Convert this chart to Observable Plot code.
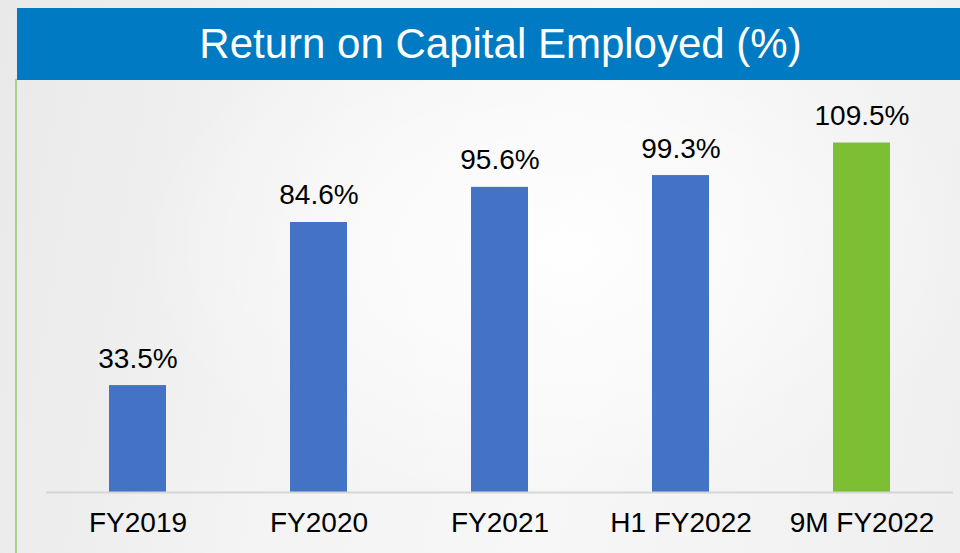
<!DOCTYPE html>
<html>
<head>
<meta charset="utf-8">
<script src="https://cdn.jsdelivr.net/npm/d3@7"></script>
<script src="https://cdn.jsdelivr.net/npm/@observablehq/plot@0.6"></script>
<style>
  html, body { margin: 0; padding: 0; }
  body {
    width: 960px; height: 553px; overflow: hidden; position: relative;
    font-family: "Liberation Sans", Arial, sans-serif;
    background:
      radial-gradient(ellipse 420px 260px at 560px 250px, rgba(255,255,255,0.9), rgba(255,255,255,0) 100%),
      linear-gradient(100deg, #e9e9e9 0%, #f4f4f4 35%, #f7f7f7 60%, #efefef 100%);
  }
  #banner {
    position: absolute; left: 17px; top: 8px; width: 943px; height: 72px;
    background: #007ac2; color: #fff; font-size: 42px;
    display: flex; align-items: center; justify-content: center;
    padding-left: 24px; box-sizing: border-box;
  }
  #edge {
    position: absolute; left: 15px; top: 79px; width: 2px; height: 474px;
    background: #a9d18e;
  }
  #chart { position: absolute; left: 0; top: 80px; }
</style>
</head>
<body>
<div id="banner">Return on Capital Employed (%)</div>
<div id="edge"></div>
<div id="chart"></div>
<script>
const categories = ["FY2019", "FY2020", "FY2021", "H1 FY2022", "9M FY2022"];
const values = [33.5, 84.6, 95.6, 99.3, 109.5];
const valueLabels = ["33.5%", "84.6%", "95.6%", "99.3%", "109.5%"];
const highlight = [false, false, false, false, true];

const data = categories.map((c, i) => ({
  category: c, value: values[i], label: valueLabels[i], highlight: highlight[i]
}));

const chart = Plot.plot({
  width: 960,
  height: 473,
  marginLeft: 46,
  marginRight: 7,
  marginTop: 29,
  marginBottom: 61,
  style: { background: "transparent", fontFamily: "'Liberation Sans', Arial, sans-serif", color: "#000" },
  x: { domain: categories, paddingInner: 0.686, paddingOuter: 0.343, label: null },
  y: { domain: [0, 120], axis: null },
  marks: [
    Plot.barY(data, {
      x: "category", y: "value",
      fill: d => d.highlight ? "#7dbf32" : "#4472c4"
    }),
    Plot.ruleY([0], { stroke: "#d6d6d6", strokeWidth: 2 }),
    Plot.text(data, {
      x: "category", y: "value", text: "label",
      lineAnchor: "bottom", dy: -18, fontSize: 28, fill: "#000"
    }),
    Plot.axisX({ tickSize: 0, tickPadding: 20, fontSize: 28, fill: "#000", label: null })
  ]
});
document.getElementById("chart").appendChild(chart);
</script>
</body>
</html>
